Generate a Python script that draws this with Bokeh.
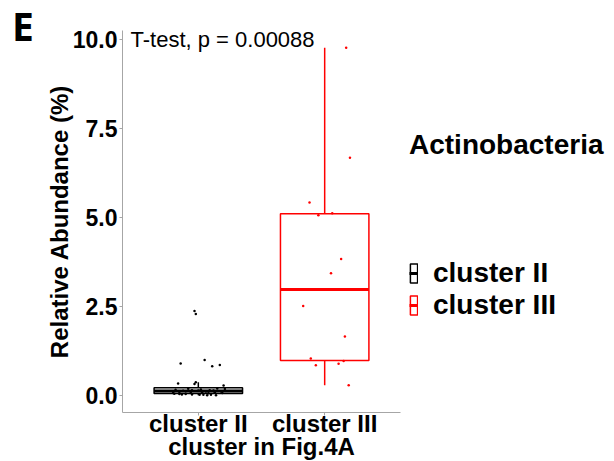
import numpy as np
from bokeh.plotting import figure
from bokeh.layouts import row
from bokeh.models import (FactorRange, Range1d, FixedTicker, PrintfTickFormatter,
                          Label, Legend, LegendItem, ColumnDataSource, Div)
from bokeh.embed import file_html
from bokeh.resources import INLINE

# ---------------- data ----------------
clusters = ["cluster II", "cluster III"]
colors = ["#000000", "#ff0000"]

values_II = [2.37, 2.28, 0.99, 0.89, 0.81, 0.85, 0.36, 0.33, 0.31, 0.27,
             0.19, 0.18, 0.17, 0.16, 0.15, 0.14, 0.14, 0.13, 0.13, 0.12,
             0.11, 0.10, 0.10, 0.09, 0.08, 0.08, 0.07, 0.06, 0.06, 0.05,
             0.04, 0.03, 0.03, 0.02, 0.02, 0.01, 0.01, 0.01, 0.00, 0.00]
jitter_II = [-0.03, -0.02, 0.05, -0.14, 0.11, 0.17, -0.02, -0.16, -0.03, 0.20,
             0.15, -0.08, 0.21, 0.02, -0.18, 0.09, -0.05, 0.12, 0.00, -0.12,
             -0.10, 0.06, 0.18, -0.15, 0.03, 0.13, -0.06, 0.19, -0.20, 0.08,
             -0.19, -0.15, -0.10, -0.13, -0.05, 0.01, 0.04, 0.10, 0.14, 0.07]

values_III = [9.77, 6.68, 5.42, 5.06, 5.12, 3.83, 3.43, 2.51, 1.65, 1.03, 0.84, 0.88, 0.96, 0.28]
jitter_III = [0.17, 0.20, -0.12, -0.05, 0.06, 0.13, 0.05, -0.17, 0.16, -0.11, -0.07, 0.11, 0.15, 0.19]

y_ticks = [0, 2.5, 5, 7.5, 10]
test_label = "T-test, p = 0.00088"
phylum = "Actinobacteria"
panel_tag = "E"
x_title = "cluster in Fig.4A"
y_title = "Relative Abundance (%)"

FONT = "Liberation Sans"
AXIS_GREY = "#a6a6a6"

# ---------------- figure ----------------
all_vals = np.array(values_II + values_III)
span = all_vals.max() - all_vals.min()
y_lo = all_vals.min() - 0.05 * span
y_hi = all_vals.max() + 0.05 * span

p = figure(x_range=FactorRange(*clusters, range_padding=0.1),
           y_range=Range1d(y_lo, y_hi),
           frame_width=278, frame_height=382,
           min_border_left=72, min_border_top=30, min_border_right=216, min_border_bottom=0,
           output_backend="svg", toolbar_location=None)
p.outline_line_color = None
p.xgrid.visible = False
p.ygrid.visible = False
p.background_fill_color = "white"

legend_items = []
groups = [(values_II, jitter_II), (values_III, jitter_III)]
for cat, col, (vals, jit) in zip(clusters, colors, groups):
    v = np.array(vals)
    q1, med, q3 = np.percentile(v, [25, 50, 75])
    iqr = q3 - q1
    upper = v[v <= q3 + 1.5 * iqr].max()
    lower = v[v >= q1 - 1.5 * iqr].min()

    wsrc = ColumnDataSource(dict(x=[cat, cat], y0=[q3, q1], y1=[upper, lower]))
    p.segment(x0="x", y0="y0", x1="x", y1="y1", source=wsrc, line_color=col, line_width=1.5)

    bsrc = ColumnDataSource(dict(x=[cat], top=[q3], bottom=[q1]))
    box_r = p.vbar(x="x", top="top", bottom="bottom", width=0.7, source=bsrc,
                   fill_color="white", fill_alpha=0.0, line_color=col, line_width=1.5)

    msrc = ColumnDataSource(dict(x0=[(cat, -0.35)], x1=[(cat, 0.35)], y=[med]))
    med_r = p.segment(x0="x0", y0="y", x1="x1", y1="y", source=msrc,
                      line_color=col, line_width=3)

    psrc = ColumnDataSource(dict(x=[(cat, j) for j in jit], y=vals))
    p.scatter(x="x", y="y", source=psrc, size=2.5, color=col, line_width=0)

    legend_items.append(LegendItem(label=cat, renderers=[box_r, med_r]))

# ---------------- axes ----------------
for ax in (p.xaxis[0], p.yaxis[0]):
    ax.axis_line_color = AXIS_GREY
    ax.major_tick_line_color = AXIS_GREY
    ax.major_tick_in = 0
    ax.major_tick_out = 3
    ax.minor_tick_in = 0
    ax.minor_tick_out = 0
    ax.major_label_text_font = FONT
    ax.major_label_text_font_style = "bold"
    ax.major_label_text_color = "black"
    ax.axis_label_text_font = FONT
    ax.axis_label_text_font_style = "bold"
    ax.axis_label_text_color = "black"
    ax.axis_label_text_font_size = "24px"

p.yaxis.ticker = FixedTicker(ticks=y_ticks)
p.yaxis.formatter = PrintfTickFormatter(format="%.1f")
p.yaxis.major_label_text_font_size = "23px"
p.yaxis.major_label_standoff = 2
p.yaxis.axis_label = y_title
p.yaxis.axis_label_standoff = -3

p.xaxis.major_label_text_font_size = "24px"
p.xaxis.major_label_standoff = -6
p.xaxis.axis_label = x_title
p.xaxis.axis_label_standoff = -7

# ---------------- annotations ----------------
p.add_layout(Label(x=8, y=10, x_units="screen", y_units="data", text=test_label,
                   text_font=FONT, text_font_size="22px", text_baseline="middle",
                   text_color="black"))

legend = Legend(items=legend_items, location=(9, 91),
                title=phylum, title_text_font=FONT, title_text_font_size="28px",
                title_text_font_style="bold", title_text_color="black", title_standoff=96,
                label_text_font=FONT, label_text_font_size="28px",
                label_text_font_style="bold", label_text_color="black",
                glyph_width=9, glyph_height=24, label_standoff=15, spacing=0,
                padding=0, margin=0, border_line_color=None, background_fill_alpha=0.0)
p.add_layout(legend, "right")

tag = Div(text='<span style="position:relative; left:7px; top:1px;">' + panel_tag + '</span>',
          width=32, height=60,
          styles={"font-family": "Open Sans", "font-size": "39px", "font-weight": "bold",
                  "line-height": "1", "color": "black"})

layout = row(tag, p)
open("out.html", "w").write(file_html(layout, INLINE))
